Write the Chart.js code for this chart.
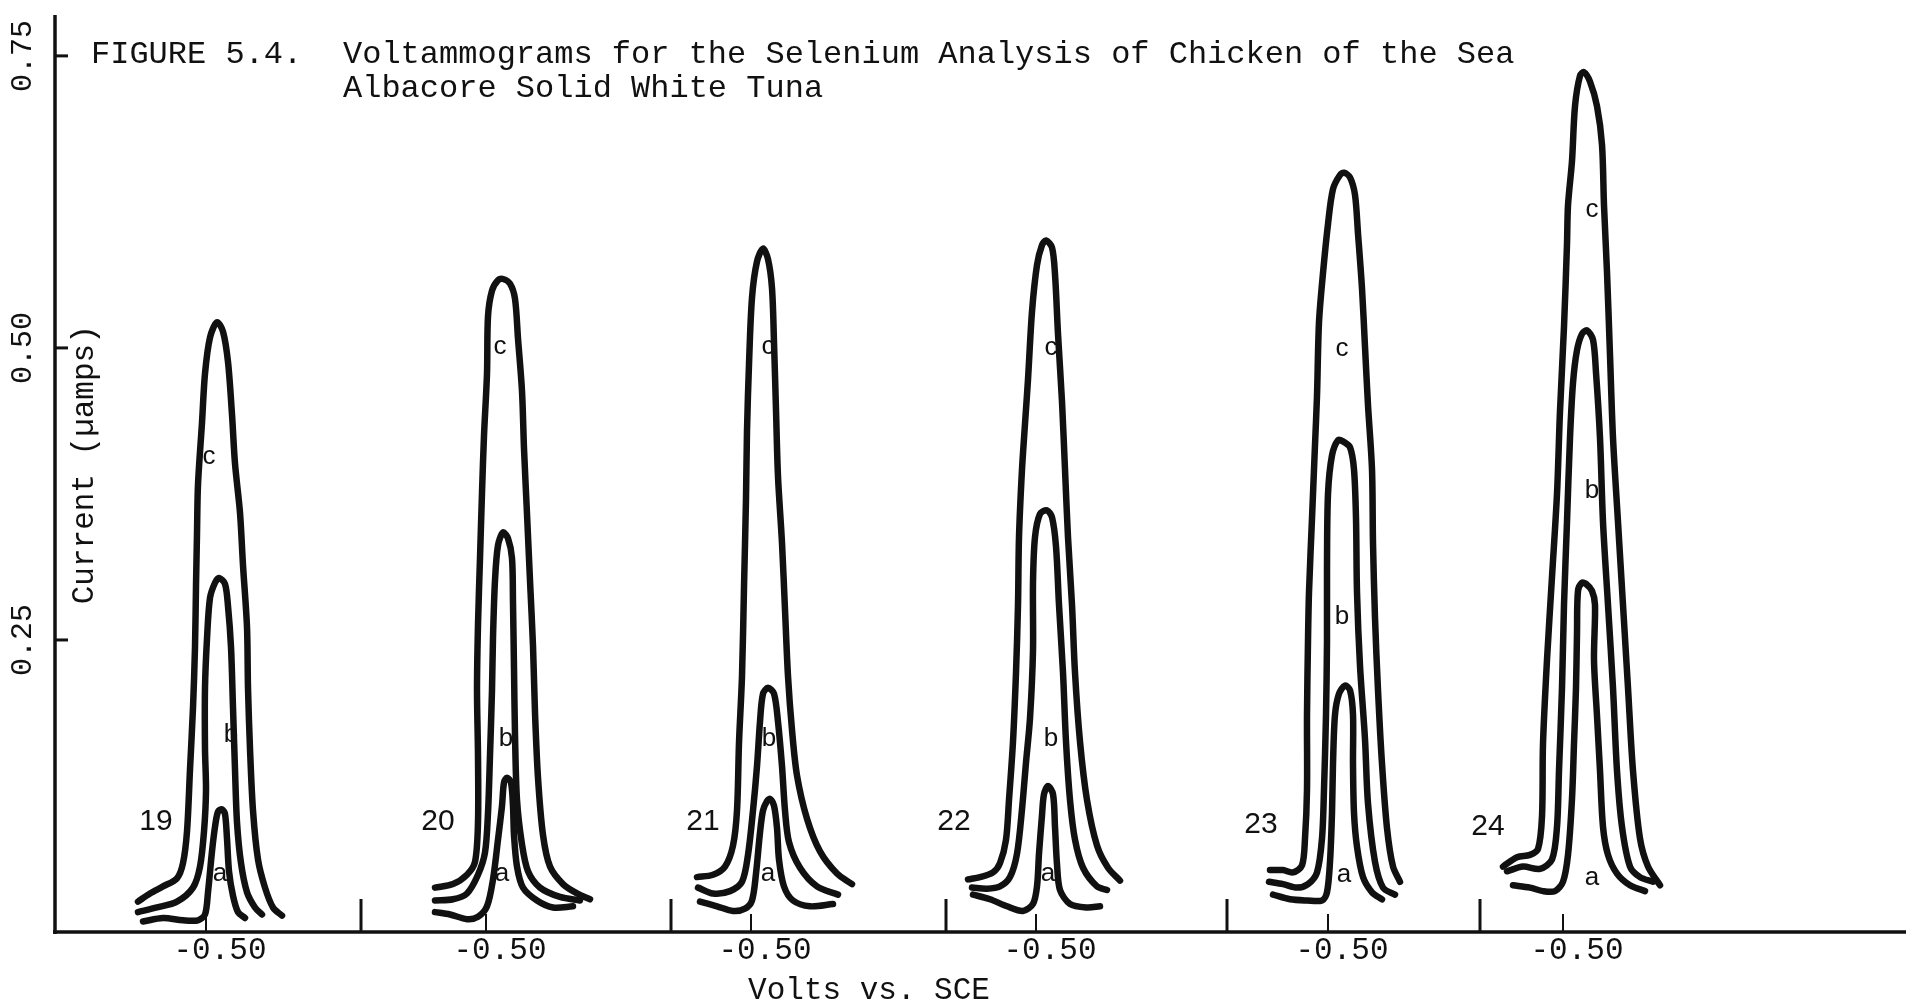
<!DOCTYPE html>
<html lang="en">
<head>
<meta charset="utf-8">
<title>Figure 5.4 - Voltammograms, Selenium in Tuna</title>
<script src="https://cdn.jsdelivr.net/npm/chart.js@4.4.1/dist/chart.umd.min.js"></script>
<style>
  html, body { margin: 0; padding: 0; background: #fff; }
  #wrap { width: 1906px; height: 1008px; position: relative; }
</style>
</head>
<body>
<div id="wrap"><canvas id="fig"></canvas></div>
<script>
// six runs (19..24), each with three curves a, b, c
var runs = ["19", "20", "21", "22", "23", "24"];
var curveNames = ["a", "b", "c"];
// where each run's -0.50 V marker sits along the recorder trace
var markers = [151, 431, 696, 981, 1273, 1508];
var dividers = [306, 616, 891, 1172, 1425];
var yTicks = [0.25, 0.50, 0.75];
var yTickText = ["0.25", "0.50", "0.75"];
var xTickText = "-0.50";

// [offset from the run's marker, current in uA]
var run19a = [[-63,0.009],[-43,0.012],[-23,0.010],[-8,0.010],[-1,0.015],[2,0.034],[6,0.069],[9,0.090],[12,0.103],[16,0.105],[19,0.101],[21,0.080],[23,0.052],[27,0.031],[32,0.017],[39,0.012]];
var run19b = [[-68,0.017],[-49,0.021],[-29,0.026],[-13,0.038],[-6,0.056],[-2,0.086],[0,0.121],[-1,0.157],[-1,0.209],[1,0.251],[4,0.286],[9,0.299],[13,0.303],[19,0.298],[22,0.279],[25,0.244],[27,0.192],[29,0.139],[31,0.094],[35,0.059],[41,0.034],[49,0.021],[56,0.015]];
var run19c = [[-68,0.026],[-56,0.033],[-43,0.039],[-29,0.046],[-23,0.059],[-19,0.086],[-16,0.139],[-13,0.192],[-11,0.244],[-10,0.296],[-9,0.341],[-8,0.383],[-4,0.436],[-1,0.478],[4,0.509],[11,0.522],[17,0.514],[22,0.488],[26,0.443],[29,0.401],[34,0.359],[37,0.314],[41,0.261],[42,0.209],[44,0.157],[47,0.104],[52,0.062],[59,0.038],[67,0.021],[76,0.014]];

var run20a = [[-51,0.017],[-36,0.015],[-19,0.011],[-8,0.013],[1,0.022],[7,0.045],[12,0.079],[16,0.108],[18,0.128],[21,0.132],[25,0.128],[27,0.108],[28,0.083],[31,0.056],[37,0.038],[51,0.027],[67,0.021],[87,0.022]];
var run20b = [[-51,0.027],[-33,0.028],[-19,0.033],[-8,0.049],[-1,0.068],[2,0.102],[4,0.151],[6,0.207],[7,0.252],[9,0.301],[12,0.331],[17,0.342],[22,0.337],[26,0.320],[27,0.282],[28,0.226],[29,0.169],[31,0.113],[36,0.075],[42,0.052],[54,0.038],[74,0.030],[94,0.027]];
var run20c = [[-51,0.038],[-33,0.041],[-19,0.049],[-11,0.060],[-8,0.094],[-8,0.151],[-9,0.207],[-8,0.263],[-6,0.320],[-4,0.376],[-2,0.425],[1,0.478],[2,0.527],[6,0.549],[12,0.558],[17,0.559],[24,0.555],[29,0.542],[32,0.508],[36,0.463],[38,0.414],[41,0.358],[44,0.301],[47,0.245],[49,0.188],[52,0.132],[57,0.083],[64,0.056],[77,0.041],[91,0.033],[104,0.028]];

var run21a = [[-51,0.026],[-34,0.022],[-18,0.018],[-6,0.020],[1,0.027],[5,0.050],[9,0.085],[12,0.104],[16,0.112],[19,0.114],[23,0.108],[26,0.089],[28,0.062],[33,0.039],[42,0.027],[59,0.022],[82,0.024]];
var run21b = [[-53,0.038],[-38,0.033],[-21,0.035],[-9,0.043],[-3,0.066],[2,0.104],[6,0.142],[9,0.180],[12,0.204],[17,0.209],[23,0.204],[27,0.180],[31,0.142],[34,0.104],[38,0.077],[49,0.055],[66,0.039],[87,0.032]];
var run21c = [[-54,0.047],[-38,0.049],[-26,0.056],[-18,0.074],[-14,0.104],[-12,0.162],[-9,0.219],[-7,0.295],[-5,0.371],[-4,0.429],[-2,0.486],[1,0.543],[6,0.574],[12,0.585],[17,0.576],[21,0.551],[23,0.505],[25,0.447],[27,0.390],[31,0.333],[34,0.276],[37,0.219],[41,0.173],[46,0.134],[56,0.097],[69,0.069],[86,0.050],[101,0.041]];

var run22a = [[-63,0.032],[-46,0.028],[-29,0.022],[-13,0.018],[-3,0.024],[1,0.039],[3,0.067],[6,0.100],[8,0.118],[12,0.125],[17,0.118],[19,0.090],[21,0.058],[24,0.036],[34,0.024],[51,0.021],[64,0.022]];
var run22b = [[-64,0.038],[-49,0.037],[-36,0.039],[-26,0.047],[-19,0.067],[-14,0.105],[-10,0.145],[-6,0.183],[-3,0.241],[-3,0.299],[-1,0.338],[4,0.358],[11,0.361],[16,0.355],[20,0.330],[23,0.280],[27,0.222],[30,0.163],[34,0.113],[39,0.079],[47,0.055],[61,0.039],[71,0.036]];
var run22c = [[-68,0.045],[-56,0.047],[-43,0.051],[-36,0.059],[-30,0.079],[-27,0.113],[-23,0.163],[-20,0.222],[-18,0.280],[-17,0.338],[-14,0.396],[-11,0.435],[-8,0.473],[-4,0.531],[1,0.571],[6,0.588],[10,0.592],[16,0.586],[19,0.563],[22,0.512],[26,0.454],[29,0.396],[32,0.338],[36,0.280],[39,0.222],[44,0.163],[51,0.113],[61,0.074],[72,0.055],[84,0.044]];

var run23a = [[-55,0.032],[-38,0.028],[-21,0.027],[-6,0.027],[-1,0.034],[2,0.060],[4,0.102],[5,0.144],[7,0.186],[11,0.204],[17,0.211],[22,0.207],[25,0.186],[25,0.144],[26,0.102],[29,0.073],[35,0.047],[44,0.034],[54,0.028]];
var run23b = [[-59,0.043],[-45,0.041],[-31,0.038],[-20,0.041],[-11,0.051],[-6,0.080],[-4,0.122],[-2,0.186],[-1,0.249],[-1,0.312],[0,0.375],[4,0.408],[10,0.421],[15,0.420],[22,0.415],[26,0.396],[28,0.354],[29,0.291],[32,0.228],[37,0.165],[40,0.110],[47,0.060],[55,0.038],[67,0.032]];
var run23c = [[-58,0.053],[-45,0.053],[-35,0.051],[-26,0.057],[-23,0.080],[-21,0.122],[-21,0.186],[-20,0.249],[-19,0.291],[-16,0.354],[-13,0.417],[-11,0.459],[-9,0.522],[-5,0.564],[0,0.606],[5,0.636],[12,0.648],[16,0.650],[22,0.646],[27,0.631],[30,0.598],[34,0.551],[37,0.501],[40,0.451],[44,0.396],[45,0.333],[47,0.269],[50,0.207],[54,0.144],[59,0.089],[65,0.056],[72,0.043]];

var run24a = [[-50,0.040],[-33,0.038],[-20,0.035],[-8,0.035],[0,0.043],[5,0.066],[9,0.114],[11,0.161],[13,0.209],[14,0.256],[15,0.292],[19,0.299],[23,0.298],[29,0.292],[32,0.280],[31,0.233],[34,0.185],[37,0.138],[40,0.090],[45,0.066],[54,0.050],[67,0.040],[82,0.035]];
var run24b = [[-56,0.052],[-40,0.056],[-23,0.054],[-11,0.062],[-6,0.090],[-4,0.138],[-1,0.209],[1,0.280],[4,0.351],[7,0.423],[10,0.470],[14,0.498],[19,0.512],[24,0.515],[30,0.507],[33,0.479],[37,0.423],[40,0.351],[45,0.280],[50,0.209],[54,0.138],[59,0.090],[67,0.056],[77,0.047],[90,0.043]];
var run24c = [[-60,0.056],[-46,0.064],[-33,0.066],[-25,0.071],[-21,0.099],[-20,0.161],[-16,0.233],[-11,0.304],[-6,0.375],[-3,0.446],[1,0.518],[4,0.589],[5,0.622],[9,0.660],[12,0.707],[17,0.733],[21,0.736],[27,0.728],[34,0.707],[39,0.674],[41,0.622],[44,0.565],[47,0.494],[50,0.423],[55,0.351],[60,0.280],[65,0.209],[70,0.138],[77,0.080],[85,0.056],[97,0.040]];

var curves = [
  [run19a, run19b, run19c],
  [run20a, run20b, run20c],
  [run21a, run21b, run21c],
  [run22a, run22b, run22c],
  [run23a, run23b, run23c],
  [run24a, run24b, run24c]
];

// where the a/b/c letters and run numbers are written, same units as the curves
var letterAnchors = [
  [[14,0.050],[25,0.169],[3,0.407]],
  [[16,0.050],[20,0.165],[14,0.501]],
  [[17,0.050],[18,0.165],[17,0.501]],
  [[12,0.050],[15,0.165],[15,0.500]],
  [[16,0.049],[14,0.270],[14,0.499]],
  [[29,0.046],[29,0.378],[29,0.618]]
];
var runLabelAnchors = [[-50,0.094],[-48,0.094],[-48,0.094],[-82,0.094],[-67,0.092],[-75,0.090]];

var ink = "#111";
var mono = "'Liberation Mono', 'DejaVu Sans Mono', monospace";
var sans = "'Liberation Sans', 'DejaVu Sans', sans-serif";

var datasets = [];
curves.forEach(function (set, r) {
  set.forEach(function (pts, k) {
    datasets.push({
      label: runs[r] + curveNames[k],
      data: pts.map(function (p) { return { x: markers[r] + p[0], y: p[1] }; }),
      showLine: true,
      borderColor: ink,
      borderWidth: 6.5,
      borderCapStyle: "round",
      borderJoinStyle: "round",
      pointRadius: 0,
      tension: 0.3,
      fill: false
    });
  });
});

function seg(ctx, x1, y1, x2, y2) {
  ctx.beginPath(); ctx.moveTo(x1, y1); ctx.lineTo(x2, y2); ctx.stroke();
}

var figurePlugin = {
  id: "figureText",
  beforeDatasetsDraw: function (chart) {
    var ctx = chart.ctx, xs = chart.scales.x, ys = chart.scales.y, area = chart.chartArea;
    ctx.save();
    ctx.strokeStyle = ink;
    ctx.lineWidth = 3.5;
    seg(ctx, area.left, area.top, area.left, area.bottom + 2);
    seg(ctx, area.left - 2, area.bottom, area.right, area.bottom);
    ctx.lineWidth = 3;
    yTicks.forEach(function (v) {
      var y = ys.getPixelForValue(v);
      seg(ctx, area.left, y, area.left + 13, y);
    });
    ctx.lineWidth = 2;
    markers.forEach(function (m) {
      var x = xs.getPixelForValue(m);
      seg(ctx, x, area.bottom, x, area.bottom - 18);
    });
    ctx.lineWidth = 3;
    dividers.forEach(function (d) {
      var x = xs.getPixelForValue(d);
      seg(ctx, x, area.bottom, x, area.bottom - 33);
    });
    ctx.restore();
  },
  afterDatasetsDraw: function (chart) {
    var ctx = chart.ctx, xs = chart.scales.x, ys = chart.scales.y, area = chart.chartArea;
    ctx.save();
    ctx.fillStyle = ink;

    // title
    ctx.font = "32px " + mono;
    ctx.textAlign = "left";
    ctx.textBaseline = "alphabetic";
    ctx.fillText("FIGURE 5.4.", 91, 63);
    ctx.fillText("Voltammograms for the Selenium Analysis of Chicken of the Sea", 343, 63);
    ctx.fillText("Albacore Solid White Tuna", 343, 97);

    // y tick labels and title, rotated
    ctx.textAlign = "center";
    ctx.textBaseline = "middle";
    ctx.font = "30px " + mono;
    yTicks.forEach(function (v, i) {
      ctx.save();
      ctx.translate(area.left - 32, ys.getPixelForValue(v));
      ctx.rotate(-Math.PI / 2);
      ctx.fillText(yTickText[i], 0, 0);
      ctx.restore();
    });
    ctx.font = "31px " + mono;
    ctx.save();
    ctx.translate(area.left + 30, ys.getPixelForValue(0.40));
    ctx.rotate(-Math.PI / 2);
    ctx.fillText("Current (\u00b5amps)", 0, 0);
    ctx.restore();

    // x tick labels and title
    ctx.font = "31px " + mono;
    markers.forEach(function (m) {
      ctx.fillText(xTickText, xs.getPixelForValue(m) + 14, area.bottom + 19);
    });
    ctx.fillText("Volts vs. SCE", 869, area.bottom + 59);

    // run numbers and curve letters
    ctx.font = "30px " + sans;
    runLabelAnchors.forEach(function (p, r) {
      ctx.fillText(runs[r], xs.getPixelForValue(markers[r] + p[0]), ys.getPixelForValue(p[1]));
    });
    ctx.font = "26px " + sans;
    letterAnchors.forEach(function (set, r) {
      set.forEach(function (p, k) {
        ctx.fillText(curveNames[k], xs.getPixelForValue(markers[r] + p[0]), ys.getPixelForValue(p[1]));
      });
    });
    ctx.restore();
  }
};

new Chart(document.getElementById("fig"), {
  type: "scatter",
  data: { datasets: datasets },
  options: {
    responsive: true,
    maintainAspectRatio: false,
    animation: false,
    events: [],
    layout: { padding: { left: 55, right: 0, top: 15, bottom: 76 } },
    plugins: { legend: { display: false }, tooltip: { enabled: false } },
    scales: {
      x: { type: "linear", min: 0, max: 1851, display: false },
      y: { type: "linear", min: 0, max: 0.785, display: false }
    }
  },
  plugins: [figurePlugin]
});
</script>
</body>
</html>
